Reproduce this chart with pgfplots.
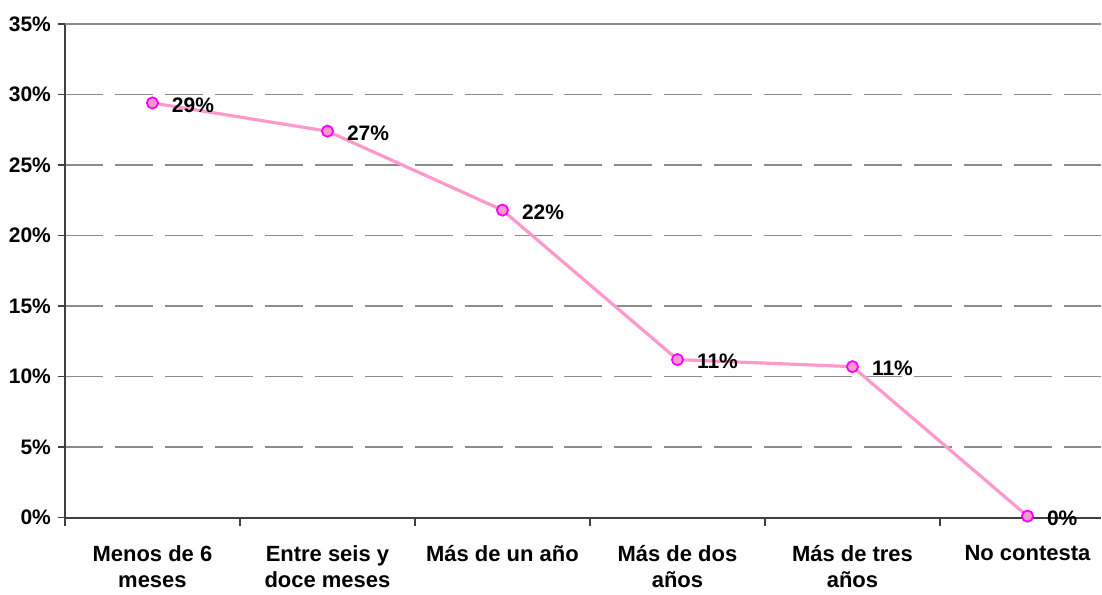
\documentclass[border=0pt]{standalone}
\usepackage{fontspec}
\setmainfont{Liberation Sans}
\usepackage{pgfplots}
\pgfplotsset{compat=1.18}

\definecolor{linepink}{HTML}{FF99CC}
\definecolor{markmag}{HTML}{FF00FF}
\definecolor{gridgray}{HTML}{8C8C8C}
\definecolor{axisgray}{HTML}{404040}

\begin{document}
\begin{tikzpicture}
\begin{axis}[
  scale only axis,
  width=518.5pt, height=247pt,
  xmin=-0.5, xmax=5.42,
  ymin=0, ymax=35,
  axis lines=left,
  axis line style={axisgray, line width=1pt, -},
  xtick={0,1,2,3,4,5},
  xticklabels={{Menos de 6\\meses},{Entre seis y\\doce meses},{Más de un año},{Más de dos\\años},{Más de tres\\años},{No contesta}},
  x tick label style={font=\fontsize{11}{13}\selectfont\bfseries, align=center, anchor=north, yshift=-7pt},
  major x tick style={draw=none},
  minor xtick={-0.5,0.5,1.5,2.5,3.5,4.5},
  minor x tick style={axisgray, line width=0.8pt},
  minor tick length=4pt,
  ytick={0,5,...,35},
  yticklabel={\pgfmathprintnumber{\tick}\%},
  y tick label style={font=\fontsize{10.5}{12}\selectfont\bfseries},
  major y tick style={axisgray, line width=0.8pt},
  major tick length=3.5pt,
  tick align=outside,
  /pgf/number format/assume math mode=true,
  ymajorgrids,
  major grid style={gridgray, line width=0.7pt, dash pattern=on 19pt off 6pt},
  extra y ticks={35},
  extra y tick labels={},
  extra y tick style={major grid style={gridgray, line width=0.7pt, solid}, major tick length=0pt},
  clip=false,
  nodes near coords={\pgfmathprintnumber[fixed,precision=0]{\pgfplotspointmeta}\%},
  nodes near coords style={text=black, font=\fontsize{10.5}{12}\selectfont\bfseries, anchor=west, xshift=6pt, yshift=-1pt},
]
\addplot[linepink, line width=1.6pt, mark=*, mark size=2.8pt,
  mark options={fill=linepink, draw=markmag, line width=0.9pt}]
  coordinates {
    (0, 29.4) (1, 27.4) (2, 21.8) (3, 11.2) (4, 10.7) (5, 0.1)
  };
% page margins as in the reference
\path (rel axis cs:0,1) ++(0,12pt);
\path (rel axis cs:0,0) ++(-32.5pt,-36pt);
\end{axis}
\end{tikzpicture}
\end{document}
